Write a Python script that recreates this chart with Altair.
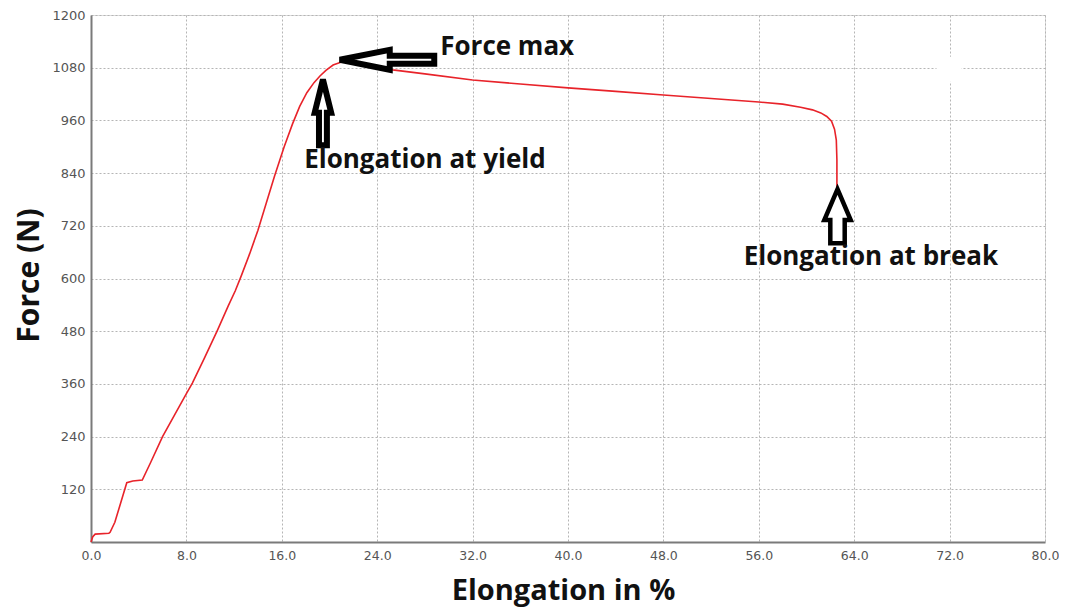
import altair as alt
import pandas as pd

# ---- curve data ----
elongation = [0, 0.15, 0.35, 1.5, 1.6, 2.0, 2.5, 3.0, 3.5, 4.3, 5.0, 6.0, 7.0, 8.0, 8.5,
              9.5, 10.6, 11.5, 12.1, 12.6, 13.3, 14.0, 14.7, 15.4, 16.2, 16.9, 17.5, 18.1,
              18.7, 19.2, 19.7, 20.3, 21.0, 21.8, 23.0, 25.3, 28.0, 32.0, 36.0, 40.0,
              44.0, 48.0, 52.0, 56.0, 58.0, 59.5, 60.5, 61.2, 61.7, 62.1, 62.35, 62.5,
              62.55, 62.55]
force = [0, 12, 18, 20, 22, 45, 90, 135, 139, 141, 181, 240, 289, 338, 362,
         418, 482, 537, 572, 606, 656, 710, 772, 834, 900, 952, 992, 1023,
         1046, 1061, 1074, 1086, 1093, 1092, 1086, 1075, 1066, 1052, 1043, 1034,
         1026, 1018, 1010, 1002, 997, 990, 984, 977, 969, 958, 940, 915,
         870, 808]

x_ticks = [0, 8, 16, 24, 32, 40, 48, 56, 64, 72, 80]
y_ticks = [120, 240, 360, 480, 600, 720, 840, 960, 1080, 1200]

# ---- annotations ----
label_texts = ["Force max", "Elongation at yield", "Elongation at break"]
label_x = [34.9, 28.0, 65.4]
label_y = [1127, 870, 649]

arrow_x = [24.8, 19.45, 62.6]
arrow_y = [1098, 978, 742]
arrow_size = [10000, 5184, 3600]
arrow_shape = [
    "M-0.94,0 L0.06,-0.2 L0.06,-0.08 L0.95,-0.08 L0.95,0.08 L0.06,0.08 L0.06,0.2 Z",
    "M0,-0.92 L0.23,0.01 L0.11,0.01 L0.11,0.91 L-0.11,0.91 L-0.11,0.01 L-0.23,0.01 Z",
    "M0,-0.9 L0.44,0.13 L0.24,0.13 L0.24,0.9 L-0.24,0.9 L-0.24,0.13 L-0.44,0.13 Z",
]
arrow_stroke = [6, 6, 4.5]

curve = pd.DataFrame({"x": elongation, "y": force, "i": range(len(force))})
labels = pd.DataFrame({"x": label_x, "y": label_y, "t": label_texts})

xs = alt.Scale(domain=[0, 80], nice=False, zero=False)
ys = alt.Scale(domain=[0, 1200], nice=False, zero=False)

base_x_axis = alt.Axis(
    values=x_ticks, format=".1f", title="Elongation in %", grid=True,
    gridColor="#b5b5b5", gridDash=[2, 2], gridWidth=1, labelFlush=False,
    ticks=False, labelPadding=7, labelFont="DejaVu Sans", labelFontSize=12.5,
    labelColor="#555555", domainColor="#7a7a7a", domainWidth=2,
    titleFont="Open Sans", titleFontSize=29, titleFontWeight="bold",
    titleColor="#111111", titleX=472, titleY=48, titleBaseline="middle",
    titleAnchor="start", titleAlign="center",
)
base_y_axis = alt.Axis(
    values=y_ticks, format="d", title="Force (N)", grid=True,
    gridColor="#b5b5b5", gridDash=[2, 2], gridWidth=1, labelFlush=False,
    ticks=False, labelPadding=6, labelFont="DejaVu Sans", labelFontSize=13,
    labelColor="#555555", domainColor="#7a7a7a", domainWidth=2,
    titleFont="Open Sans", titleFontSize=30, titleFontWeight="bold",
    titleColor="#111111", titleX=-62, titleY=260, titleBaseline="middle",
    titleAngle=270, titleAlign="center",
)

line = alt.Chart(curve).mark_line(color="#e8232a", strokeWidth=1.6).encode(
    x=alt.X("x:Q", scale=xs, axis=base_x_axis),
    y=alt.Y("y:Q", scale=ys, axis=base_y_axis),
    order="i:Q",
)

blotch = alt.Chart(pd.DataFrame({"x": [70.9], "x2": [73.0], "y": [1048], "y2": [1105]})).mark_rect(
    color="white"
).encode(x=alt.X("x:Q", scale=xs), x2="x2", y=alt.Y("y:Q", scale=ys), y2="y2")

arrows = []
for ax_, ay_, sz, shp, sw in zip(arrow_x, arrow_y, arrow_size, arrow_shape, arrow_stroke):
    arrows.append(
        alt.Chart(pd.DataFrame({"x": [ax_], "y": [ay_]})).mark_point(
            shape=shp, size=sz, filled=True, fill="white", stroke="black",
            strokeWidth=sw, opacity=1, strokeJoin="miter",
        ).encode(x=alt.X("x:Q", scale=xs), y=alt.Y("y:Q", scale=ys))
    )

text = alt.Chart(labels).mark_text(
    font="Open Sans", fontSize=26, fontWeight="bold", color="#111111",
    align="center", baseline="middle",
).encode(x=alt.X("x:Q", scale=xs), y=alt.Y("y:Q", scale=ys), text="t:N")

chart = alt.layer(blotch, line, *arrows, text).properties(
    width=954, height=527,
    autosize=alt.AutoSizeParams(type="none"),
    padding={"left": 83, "top": 7, "right": 14, "bottom": 66},
).configure_view(stroke="#9a9a9a", strokeWidth=1.5).configure(background="white")

chart.save("out.html", embed_options={"renderer": "svg", "actions": False})
